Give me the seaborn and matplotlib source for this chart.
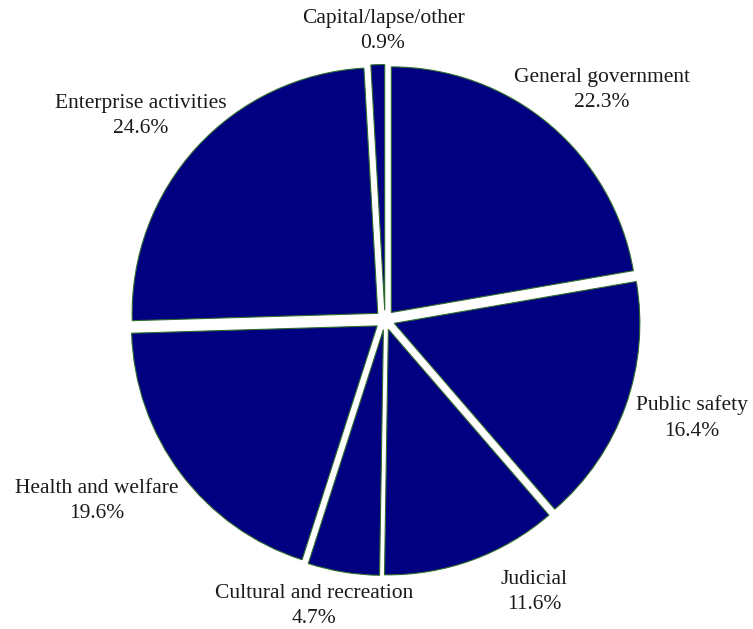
import matplotlib
matplotlib.use("Agg")
import matplotlib.pyplot as plt
import seaborn as sns

# Budget shares by function (percent), clockwise from the top
categories = ["General government", "Public safety", "Judicial",
              "Cultural and recreation", "Health and welfare",
              "Enterprise activities", "Capital/lapse/other"]
shares = [22.3, 16.4, 11.6, 4.7, 19.6, 24.6, 0.9]

# where each label block sits (pie radius = 1)
label_x = [0.884, 1.250, 0.607, -0.289, -1.172, -0.994, -0.008]
label_y = [0.936, -0.399, -1.108, -1.164, -0.737, 0.831, 1.176]

sns.set_style("white")
plt.rcParams["font.family"] = ["Liberation Serif", "DejaVu Serif"]

fig = plt.figure(figsize=(7.53, 6.29), dpi=100)
ax = fig.add_axes([0, 0, 1, 1])

ax.pie(shares, startangle=90, counterclock=False,
       explode=[0.04] * len(shares),
       colors=["#000080"] * len(shares),
       wedgeprops=dict(edgecolor="#2e6b2e", linewidth=0.8))

for name, val, x, y in zip(categories, shares, label_x, label_y):
    ax.text(x, y, f"{name}\n{val:.1f}%", ha="center", va="center",
            fontsize=15.5, color="#1a1a1a", linespacing=1.45)

px = 245.6  # pixels per unit radius
ax.set_xlim(-385 / px, 368 / px)
ax.set_ylim(-309 / px, 320 / px)
ax.set_aspect("auto")
ax.axis("off")

fig.savefig("out.png", dpi=100)
